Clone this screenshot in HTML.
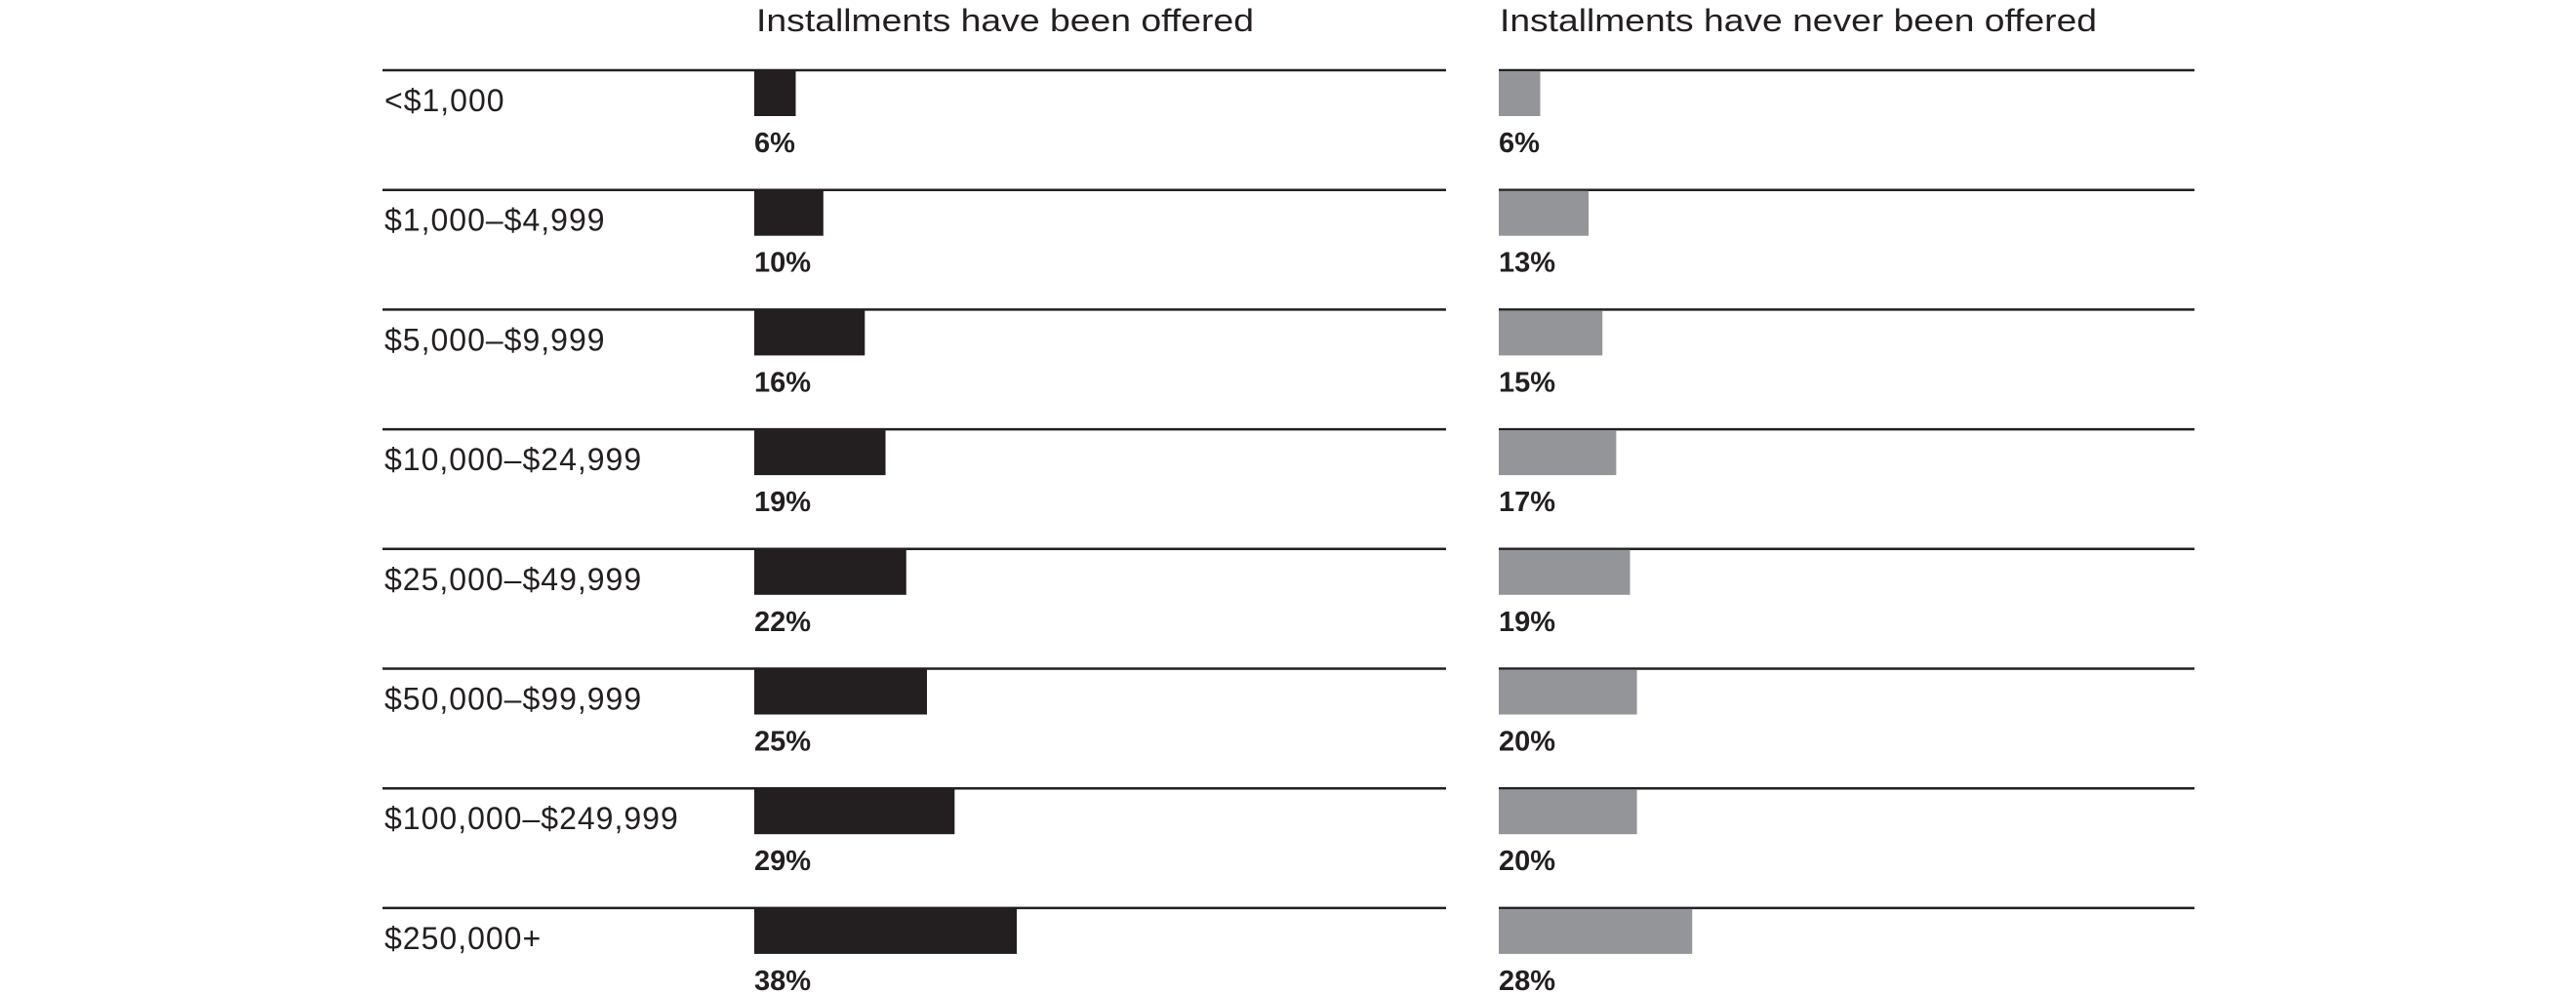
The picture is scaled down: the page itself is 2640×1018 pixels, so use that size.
<!DOCTYPE html>
<html><head><meta charset="utf-8"><style>
html,body{margin:0;padding:0;background:#fff;}
svg{display:block;}
text{font-family:"Liberation Sans",sans-serif;fill:#231f20;}
.t{font-size:32px;}
.l{font-size:32px;letter-spacing:1px;}
.p{font-size:29px;font-weight:bold;}
</style></head><body>
<svg width="2640" height="1018" viewBox="0 0 2640 1018" xmlns="http://www.w3.org/2000/svg">
<text class="t" x="775" y="32" textLength="510" lengthAdjust="spacingAndGlyphs">Installments have been offered</text>
<text class="t" x="1537" y="32" textLength="612" lengthAdjust="spacingAndGlyphs">Installments have never been offered</text>
<g id="rows"></g>
</svg>
<script>
var L=["<$1,000","$1,000–$4,999","$5,000–$9,999","$10,000–$24,999","$25,000–$49,999","$50,000–$99,999","$100,000–$249,999","$250,000+"];
var A=[6,10,16,19,22,25,29,38],B=[6,13,15,17,19,20,20,28];
var s="",k=7.08;
for(var i=0;i<8;i++){var y=72+i*122.7;
s+='<line x1="392" x2="1482" y1="'+y+'" y2="'+y+'" stroke="#231f20" stroke-width="2.5"/>';
s+='<line x1="1536" x2="2249" y1="'+y+'" y2="'+y+'" stroke="#231f20" stroke-width="2.5"/>';
s+='<rect x="773" y="'+(y+1)+'" width="'+(A[i]*k)+'" height="46" fill="#231f20"/>';
s+='<rect x="1536" y="'+(y+1)+'" width="'+(B[i]*k)+'" height="46" fill="#939598"/>';
s+='<text class="l" x="394" y="'+(y+42)+'">'+L[i].replace("<","&lt;")+'</text>';
s+='<text class="p" x="773" y="'+(y+84)+'">'+A[i]+'%</text>';
s+='<text class="p" x="1536" y="'+(y+84)+'">'+B[i]+'%</text>';}
document.getElementById("rows").innerHTML=s;
</script>
</body></html>
